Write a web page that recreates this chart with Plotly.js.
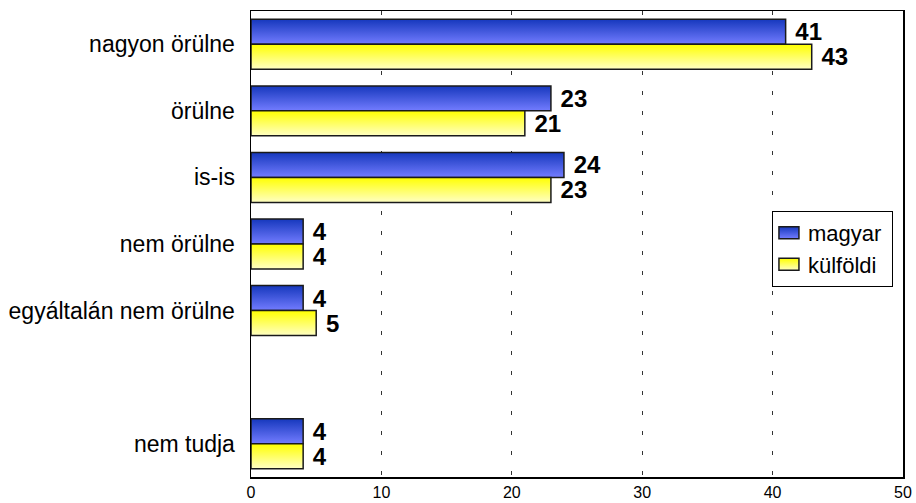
<!DOCTYPE html>
<html>
<head>
<meta charset="utf-8">
<script src="https://cdn.plot.ly/plotly-3.0.1.min.js"></script>
<style>html,body{margin:0;padding:0;background:#fff;}#chart{width:916px;height:503px;}</style>
</head>
<body>
<div id="chart"></div>
<script>
var categories = ["nagyon örülne", "örülne", "is-is", "nem örülne", "egyáltalán nem örülne", "", "nem tudja"];
var magyar = [41, 23, 24, 4, 4, null, 4];
var kulfoldi = [43, 21, 23, 4, 5, null, 4];
var xTicks = [0, 10, 20, 30, 40, 50];

var pos = categories.map(function (c, i) { return i; });
var font = "Liberation Sans, Arial, sans-serif";

function mk(name, vals, color) {
  return {
    type: "bar", orientation: "h", name: name,
    y: pos, x: vals,
    text: vals.map(function (v) { return v === null ? "" : "\u00a0" + String(v); }),
    textposition: "outside", cliponaxis: false, constraintext: "none",
    textfont: {family: font, size: 24, color: "#000", weight: "bold"},
    marker: {color: color, line: {color: "#1a1a1a", width: 1.5}},
    hoverinfo: "x+name"
  };
}

var data = [mk("magyar", magyar, "#3a55e0"), mk("külföldi", kulfoldi, "#ffff40")];

var layout = {
  width: 916, height: 503,
  margin: {l: 251, r: 13, t: 11, b: 26},
  paper_bgcolor: "#fff", plot_bgcolor: "#fff",
  barmode: "group", bargap: 0.25, bargroupgap: 0,
  font: {family: font, color: "#000"},
  showlegend: true,
  legend: {x: 0.799, y: 0.571, xanchor: "left", yanchor: "top",
    bgcolor: "#fff", bordercolor: "#000", borderwidth: 1,
    font: {family: font, size: 22, color: "#000"}},
  xaxis: {range: [0, 50], tickvals: xTicks, ticktext: xTicks.map(String),
    showgrid: true, gridcolor: "#333", gridwidth: 1, griddash: "4px,16px",
    zeroline: false, showline: true, linecolor: "#000", linewidth: 1.5, mirror: true,
    ticks: "", tickfont: {family: font, size: 16, color: "#000"}, fixedrange: true},
  yaxis: {range: [6.5, -0.5], tickvals: pos, ticktext: categories,
    showgrid: false, zeroline: false, showline: true, linecolor: "#000", linewidth: 1.5, mirror: true,
    ticks: "", ticklabelstandoff: 10, tickfont: {family: font, size: 23, color: "#000"}, fixedrange: true}
};

Plotly.newPlot("chart", data, layout, {displayModeBar: false, staticPlot: true}).then(function (gd) {
  var ns = "http://www.w3.org/2000/svg";
  var svg = gd.querySelector("svg.main-svg");
  var defs = document.createElementNS(ns, "defs");
  function grad(id, c1, c2) {
    var g = document.createElementNS(ns, "linearGradient");
    g.setAttribute("id", id);
    g.setAttribute("x1", "0"); g.setAttribute("y1", "0");
    g.setAttribute("x2", "0"); g.setAttribute("y2", "1");
    [[0, c1], [1, c2]].forEach(function (s) {
      var st = document.createElementNS(ns, "stop");
      st.setAttribute("offset", s[0]);
      st.setAttribute("stop-color", s[1]);
      g.appendChild(st);
    });
    defs.appendChild(g);
  }
  grad("gBlue", "#1638bd", "#737cff");
  grad("gYellow", "#ffff00", "#ffffc4");
  svg.insertBefore(defs, svg.firstChild);
  var ids = ["url(#gBlue)", "url(#gYellow)"];
  gd.querySelectorAll(".barlayer .trace.bars").forEach(function (t, i) {
    t.querySelectorAll(".point path").forEach(function (p) { p.style.fill = ids[i]; });
  });
  gd.querySelectorAll(".legend .traces").forEach(function (t, i) {
    t.querySelectorAll(".legendpoints path").forEach(function (p) {
      p.style.fill = ids[i];
      p.setAttribute("d", "M-14,-6H6V6H-14Z");
    });
    t.querySelectorAll("text.legendtext").forEach(function (tx) {
      tx.setAttribute("x", "35");
    });
  });
});
</script>
</body>
</html>
